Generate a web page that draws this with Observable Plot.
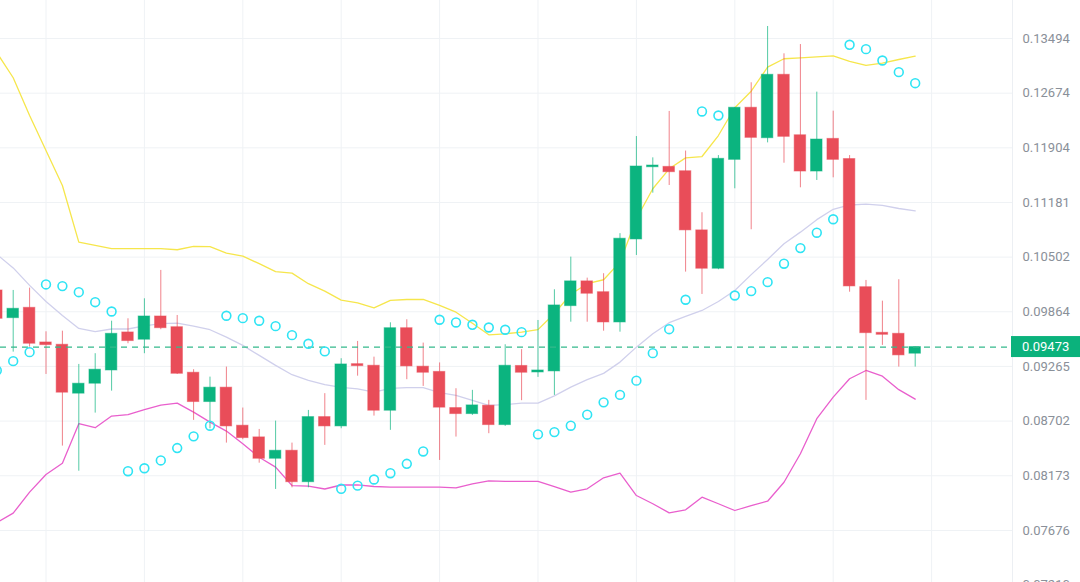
<!DOCTYPE html>
<html><head><meta charset="utf-8">
<script src="https://cdn.jsdelivr.net/npm/d3@7"></script>
<script src="https://cdn.jsdelivr.net/npm/@observablehq/plot@0.6"></script>
<style>
html,body{margin:0;padding:0;background:#fff;overflow:hidden;}
#chart{width:1080px;height:582px;overflow:hidden;}
</style></head><body><div id="chart"></div>
<script>
// candle index of the first entry (partially hidden candle at the left edge)
const startIndex = -1;

const openP = [0.10108,0.09792,0.09909,0.09523,0.09498,0.08980,0.09083,0.09222,0.09633,0.09553,
0.09811,0.09691,0.09198,0.08894,0.09042,0.08656,0.08541,0.08334,0.08411,0.08113,
0.08742,0.08649,0.09289,0.09272,0.08806,0.09680,0.09262,0.09207,0.08833,0.08772,
0.08857,0.08662,0.09270,0.09201,0.09212,0.09928,0.10214,0.10088,0.09744,0.10717,
0.11642,0.11647,0.11589,0.10829,0.10363,0.11741,0.12464,0.12036,0.12944,0.12077,
0.11585,0.12027,0.11752,0.10146,0.09629,0.09618,0.09401];

const closeP = [0.09785,0.09898,0.09509,0.09494,0.08990,0.09083,0.09230,0.09618,0.09538,0.09811,
0.09680,0.09187,0.08894,0.09042,0.08649,0.08534,0.08334,0.08411,0.08113,0.08742,
0.08649,0.09286,0.09268,0.08806,0.09680,0.09265,0.09198,0.08837,0.08772,0.08860,
0.08662,0.09272,0.09198,0.09222,0.09936,0.10214,0.10070,0.09744,0.10726,0.11652,
0.11665,0.11576,0.10829,0.10363,0.11755,0.12464,0.12041,0.12944,0.12055,0.11585,
0.12018,0.11741,0.10155,0.09625,0.09607,0.09383,0.09473];

const highP = [0.10131,0.10108,0.10135,0.09640,0.09647,0.09286,0.09401,0.09758,0.09785,0.10012,
0.10343,0.09822,0.09230,0.09152,0.09258,0.08833,0.08619,0.08702,0.08485,0.08809,
0.08980,0.09347,0.09534,0.09364,0.09740,0.09774,0.09516,0.09302,0.09031,0.09014,
0.08911,0.09498,0.09445,0.09766,0.10116,0.10502,0.10252,0.10304,0.10788,0.12059,
0.11768,0.12411,0.11860,0.11050,0.11799,0.12464,0.12826,0.13681,0.13259,0.13401,
0.12689,0.12415,0.11799,0.10225,0.09985,0.10233,0.09473];

const lowP = [0.09766,0.09418,0.09472,0.09180,0.08456,0.08216,0.08782,0.09006,0.09509,0.09401,
0.09663,0.09180,0.08709,0.08626,0.08485,0.08518,0.08292,0.08046,0.08061,0.08061,
0.08463,0.08626,0.09162,0.08752,0.08610,0.09125,0.09055,0.08318,0.08544,0.08759,
0.08577,0.08649,0.08908,0.09149,0.08962,0.09747,0.09747,0.09647,0.09636,0.10522,
0.11301,0.11401,0.10323,0.10062,0.10351,0.11358,0.10837,0.11972,0.11696,0.11371,
0.11467,0.11502,0.10088,0.08911,0.09491,0.09258,0.09258];

const sarP = [0.09222,0.09321,0.09418,0.10178,0.10159,0.10088,0.09973,0.09867,0.08216,0.08244,
0.08318,0.08437,0.08551,0.08656,0.09819,0.09792,0.09763,0.09703,0.09603,0.09509,
0.09426,0.08052,0.08081,0.08138,0.08197,0.08286,0.08404,0.09774,0.09744,0.09718,
0.09688,0.09663,0.09636,0.08570,0.08593,0.08656,0.08766,0.08891,0.08967,0.09115,
0.09407,0.09669,0.10001,0.12411,0.12354,0.10050,0.10100,0.10205,0.10423,0.10611,
0.10800,0.10968,0.13397,0.13330,0.13158,0.12983,0.12820];

const bbUpper = [0.13279,0.12900,0.12354,0.11867,0.11401,0.10684,0.10644,0.10604,0.10604,0.10604,
0.10604,0.10591,0.10632,0.10628,0.10550,0.10514,0.10423,0.10328,0.10311,0.10187,
0.10100,0.09997,0.09966,0.09909,0.09993,0.10004,0.10004,0.09936,0.09859,0.09736,
0.09607,0.09618,0.09636,0.09664,0.09845,0.10065,0.10187,0.10233,0.10442,0.10974,
0.11358,0.11621,0.11768,0.11786,0.12073,0.12464,0.12703,0.13058,0.13184,0.13198,
0.13214,0.13229,0.13143,0.13083,0.13117,0.13173,0.13223];

const bbMiddle = [0.10535,0.10373,0.10167,0.09981,0.09822,0.09677,0.09642,0.09671,0.09671,0.09706,
0.09732,0.09736,0.09703,0.09663,0.09582,0.09491,0.09383,0.09276,0.09177,0.09118,
0.09073,0.09045,0.09029,0.08996,0.09034,0.09042,0.09042,0.08990,0.08962,0.08911,
0.08860,0.08867,0.08883,0.08883,0.08957,0.09048,0.09125,0.09191,0.09311,0.09472,
0.09618,0.09741,0.09811,0.09879,0.09981,0.10108,0.10293,0.10474,0.10665,0.10807,
0.10963,0.11094,0.11149,0.11159,0.11143,0.11104,0.11075];

const bbLower = [0.07747,0.07830,0.08021,0.08185,0.08292,0.08676,0.08636,0.08752,0.08766,0.08817,
0.08863,0.08883,0.08792,0.08692,0.08603,0.08479,0.08349,0.08254,0.08082,0.08076,
0.08050,0.08087,0.08088,0.08073,0.08067,0.08067,0.08067,0.08067,0.08061,0.08098,
0.08126,0.08120,0.08120,0.08120,0.08073,0.08021,0.08052,0.08154,0.08197,0.07990,
0.07915,0.07833,0.07860,0.07975,0.07915,0.07854,0.07899,0.07938,0.08113,0.08382,
0.08726,0.08945,0.09135,0.09222,0.09162,0.09021,0.08924];

const yTicks = [0.13494,0.12674,0.11904,0.11181,0.10502,0.09864,0.09265,0.08702,0.08173,0.07676,0.07210];
const gridIdx = [2,8,14,20,26,32,38,44,50,56];
const lastPrice = 0.09473;

const UP = "#0bb47f", DOWN = "#e94d59";
const FONT = "Roboto, 'Noto Sans', sans-serif";
const fmt = d3.format(".5f");

const candles = openP.map((o, k) => ({
  i: k + startIndex, open: o, close: closeP[k], high: highP[k], low: lowP[k], up: closeP[k] >= o
}));
const series = arr => arr.map((v, k) => ({i: k + startIndex, v}));
const upCandles = candles.filter(d => d.up), downCandles = candles.filter(d => !d.up);

const plot = Plot.plot({
  width: 1080, height: 600,
  marginLeft: 0, marginRight: 68, marginTop: 0, marginBottom: 0,
  style: {background: "#ffffff", color: "#8a9099", fontFamily: FONT, fontSize: "13px", overflow: "visible"},
  x: {type: "linear", domain: [-0.7744, 60.933], axis: null},
  y: {type: "log", domain: [0.070839, 0.14095], axis: null},
  marks: [
    Plot.ruleX(gridIdx, {stroke: "#eff2f5", strokeWidth: 1}),
    Plot.ruleY(yTicks, {stroke: "#eff2f5", strokeWidth: 1}),
    Plot.frame({anchor: "right", stroke: "#eceff3"}),
    Plot.line(series(bbUpper), {x: "i", y: "v", stroke: "#f6e64c", strokeWidth: 1.3, clip: true}),
    Plot.line(series(bbMiddle), {x: "i", y: "v", stroke: "#d0d0ec", strokeWidth: 1.3, clip: true}),
    Plot.line(series(bbLower), {x: "i", y: "v", stroke: "#e95fcd", strokeWidth: 1.3, clip: true}),
    Plot.ruleX(upCandles, {x: "i", y1: "low", y2: "high", stroke: UP, strokeOpacity: 0.7, strokeWidth: 1, clip: true}),
    Plot.ruleX(downCandles, {x: "i", y1: "low", y2: "high", stroke: DOWN, strokeOpacity: 0.7, strokeWidth: 1, clip: true}),
    Plot.rect(upCandles, {x1: d => d.i - 0.35, x2: d => d.i + 0.35, y1: "open", y2: "close", fill: UP, stroke: UP, strokeOpacity: 0.5, clip: true}),
    Plot.rect(downCandles, {x1: d => d.i - 0.35, x2: d => d.i + 0.35, y1: "open", y2: "close", fill: DOWN, stroke: DOWN, strokeOpacity: 0.5, clip: true}),
    Plot.ruleY([lastPrice], {stroke: "#34b98c", strokeWidth: 1.3, strokeDasharray: "6,5"}),
    Plot.dot(series(sarP), {x: "i", y: "v", r: 4.4, stroke: "#2fe4f4", strokeWidth: 1.6, fill: "none", clip: true}),
    Plot.text(yTicks, {y: d => d, frameAnchor: "right", dx: 10, textAnchor: "start", text: d => fmt(d),
      fill: "#8a9099", fontSize: 13, fontFamily: FONT})
  ]
});
document.getElementById("chart").appendChild(plot);

// last-price badge on the right axis
const yPos = plot.scale("y").apply(lastPrice);
const xEdge = plot.scale("x").range[1];
const svg = d3.select(plot);
svg.append("rect").attr("x", xEdge - 1).attr("y", yPos - 10.5).attr("width", 1080 - xEdge + 1).attr("height", 21).attr("fill", "#0bb27c");
svg.append("text").attr("x", xEdge + 10).attr("y", yPos).attr("dy", "0.32em").attr("fill", "#ffffff")
  .attr("text-anchor", "start").attr("font-size", 13).attr("font-family", FONT).text(fmt(lastPrice));
</script></body></html>
